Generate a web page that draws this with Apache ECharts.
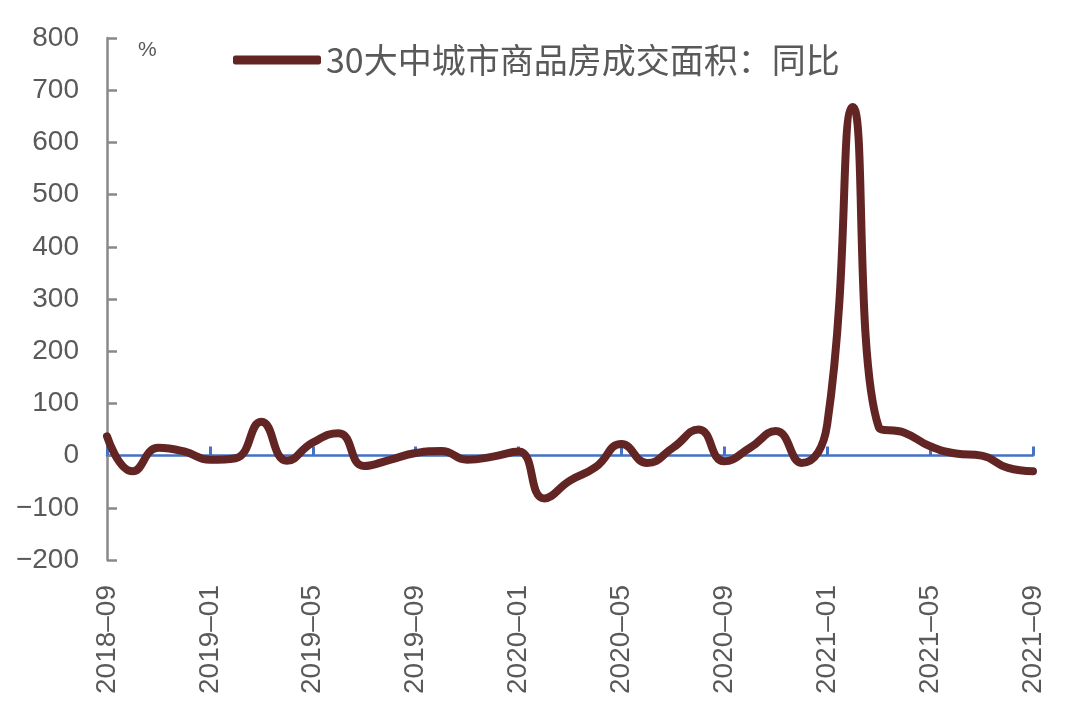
<!DOCTYPE html>
<html>
<head>
<meta charset="utf-8">
<script src="https://cdn.jsdelivr.net/npm/echarts@6/dist/echarts.min.js"></script>
<style>
html,body{margin:0;padding:0;background:#fff;}
#main{width:1080px;height:726px;}
</style>
</head>
<body>
<div id="main"></div>
<script>
const categories = [
  "2018–09","2018–10","2018–11","2018–12",
  "2019–01","2019–02","2019–03","2019–04","2019–05","2019–06","2019–07","2019–08","2019–09","2019–10","2019–11","2019–12",
  "2020–01","2020–02","2020–03","2020–04","2020–05","2020–06","2020–07","2020–08","2020–09","2020–10","2020–11","2020–12",
  "2021–01","2021–02","2021–03","2021–04","2021–05","2021–06","2021–07","2021–08","2021–09"
];
const seriesName = "30大中城市商品房成交面积：同比";
const yoyValues = [37, -30, 15, 8, -8, -5, 65, -10, 25, 43, -20, -8, 5, 9, -8, -2, 8, -82, -48, -22, 22, -14, 15, 50, -11, 15, 47, -14, 60, 668, 55, 44, 18, 4, 0, -23, -30];
const yMin = -200, yMax = 800, yStep = 100;
const unitLabel = "%";

const chart = echarts.init(document.getElementById('main'), null, {renderer: 'canvas'});
const grey = '#595959';
chart.setOption({
  animation: false,
  backgroundColor: '#ffffff',
  grid: {left: 107, right: 47, top: 38, bottom: 166, containLabel: false},
  legend: {
    show: true,
    left: 228, top: 38,
    icon: 'roundRect',
    itemWidth: 88, itemHeight: 9,
    textStyle: {fontFamily: '"Noto Sans CJK SC"', fontSize: 34, color: grey, padding: [0,0,0,0]},
    data: [seriesName]
  },
  graphic: [{
    type: 'text', left: 138, top: 40,
    style: {text: unitLabel, fontSize: 21, fill: grey, fontFamily: 'Liberation Sans'}
  }],
  xAxis: [{
    type: 'category', data: categories, boundaryGap: false,
    axisLine: {onZero: true, lineStyle: {color: '#4472C4', width: 2.5}},
    axisTick: {show: true, inside: true, interval: 3, length: 9, lineStyle: {color: '#4472C4', width: 3}},
    axisLabel: {show: false},
    splitLine: {show: false}
  }, {
    type: 'category', data: categories, boundaryGap: false, position: 'bottom',
    axisLine: {show: false, onZero: false},
    axisTick: {show: false},
    axisLabel: {show: true, interval: 3, rotate: 90, margin: 25, fontSize: 28, color: grey, fontFamily: 'Liberation Sans'},
    splitLine: {show: false}
  }],
  yAxis: {
    type: 'value', min: yMin, max: yMax, interval: yStep,
    axisLine: {show: true, lineStyle: {color: '#898989', width: 2.5}},
    axisTick: {show: true, inside: true, length: 10, lineStyle: {color: '#898989', width: 2.5}},
    axisLabel: {fontSize: 28, color: grey, margin: 28, fontFamily: 'Liberation Sans',
      formatter: v => v < 0 ? '−' + Math.abs(v) : String(v)},
    splitLine: {show: false}
  },
  series: [{
    name: seriesName, type: 'line', xAxisIndex: 0, data: yoyValues,
    smooth: 0.5, showSymbol: false, symbol: 'none',
    lineStyle: {color: '#632523', width: 8, cap: 'round', join: 'round'},
    itemStyle: {color: '#632523'}
  }]
});
</script>
</body>
</html>
